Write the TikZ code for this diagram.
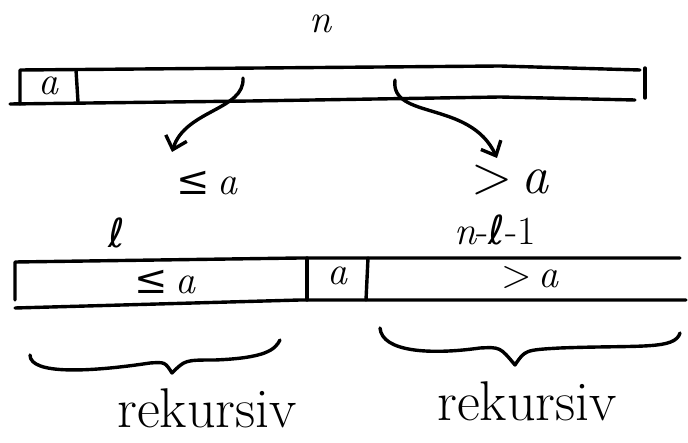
\documentclass[tikz,border=0pt]{standalone}
\usepackage{fontspec}
\newfontfamily\symf{DejaVu Serif}
\newfontfamily\ellf{DejaVu Sans}
\usetikzlibrary{arrows.meta}
\begin{document}
\begin{tikzpicture}[x=1pt,y=-1pt,
  pen/.style={line width=3.4pt,line cap=round,line join=round},
  lbl/.style={inner sep=0pt,font=\fontsize{40}{46}\selectfont},
  big/.style={inner sep=0pt,font=\fontsize{54}{60}\selectfont},
  arr/.style={pen,-{Straight Barb[length=12pt,width=22pt,line width=3.4pt]}}]
\useasboundingbox (0,0) rectangle (688,443);
% top array
\draw[pen] (20,104) -- (20,70) -- (260,68) -- (500,66) -- (640,70);
\draw[pen] (10,104) -- (250,101) -- (500,97) -- (635,100);
\draw[pen] (645,68) -- (645,98);
\draw[pen] (76,70) -- (78,102);
\node[lbl] (atop) at (48,86) {\itshape a};
\node[lbl] (n) at (320,24) {\itshape n};
% arrow targets
\node[lbl] (le) at (207,183) {{\symf ≤}\,\itshape a};
\node[big] (gt) at (510,180) {>\,\itshape a};
\coordinate (s1) at (243,78);
\coordinate (s2) at (395,80);
\coordinate (e1) at (172,152);
\coordinate (e2) at (497,158);
\draw[arr] (s1) .. controls (245,110) and (185,110) .. (e1);
\draw[arr] (s2) .. controls (390,120) and (470,100) .. (e2);
% bottom array
\node[lbl] (l) at (117,233) {\ellf ℓ};
\node[lbl] (nl) at (495,230) {{\itshape n}-{\ellf ℓ}-1};
\draw[pen] (15,300) -- (15,262) -- (300,258) -- (680,258);
\draw[pen] (15,308) -- (300,300) -- (686,300);
\draw[pen] (307,258) -- (307,300);
\draw[pen] (368,258) -- (366,300);
\node[lbl] (lea) at (165,282) {{\symf ≤}\,\itshape a};
\node[lbl] (a2) at (337,276) {\itshape a};
\node[lbl] (gta) at (530,278) {>\,\itshape a};
% braces
\coordinate (b1l) at (30,355);
\coordinate (b1t) at (172,373);
\coordinate (b1r) at (280,340);
\coordinate (b2l) at (380,328);
\coordinate (b2t) at (515,365);
\coordinate (b2r) at (680,333);
\draw[pen] (b1l) .. controls (30,375) and (90,372) .. (150,363) .. controls (165,362) .. (b1t)
  .. controls (185,360) .. (215,360) .. controls (265,358) and (275,350) .. (b1r);
\draw[pen] (b2l) .. controls (382,352) and (430,355) .. (480,348) .. controls (500,347) .. (b2t)
  .. controls (525,350) .. (560,348) .. controls (640,345) and (675,350) .. (b2r);
\node[lbl,font=\fontsize{56}{60}\selectfont] (r1) at (207,408) {rekursiv};
\node[lbl,font=\fontsize{56}{60}\selectfont] (r2) at (527,401) {rekursiv};
\end{tikzpicture}
\end{document}
